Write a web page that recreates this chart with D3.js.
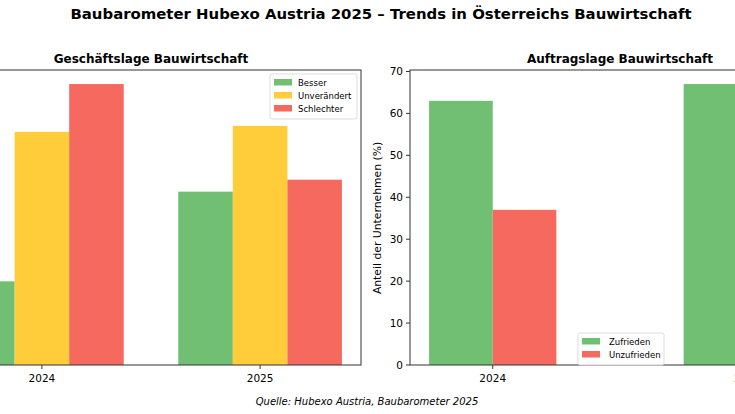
<!DOCTYPE html>
<html>
<head>
<meta charset="utf-8">
<script src="https://cdn.jsdelivr.net/npm/d3@7"></script>
<style>
  body { margin: 0; background: #fff; }
  svg { display: block; font-family: "DejaVu Sans", sans-serif; }
</style>
</head>
<body>
<div id="container"></div>
<script>
// data
const years = ['2024', '2025'];
const lageSeries = ['Besser', 'Unverändert', 'Schlechter'];
const lageValues = {
  'Besser': [14, 29],
  'Unverändert': [39, 40],
  'Schlechter': [47, 31]
};
const auftragSeries = ['Zufrieden', 'Unzufrieden'];
const auftragValues = {
  'Zufrieden': [63, 67],
  'Unzufrieden': [37, 33]
};
const yTicksRight = [0, 10, 20, 30, 40, 50, 60, 70];

const colors = {
  'Besser': '#70bf73',
  'Unverändert': '#ffcd39',
  'Schlechter': '#f6695e',
  'Zufrieden': '#70bf73',
  'Unzufrieden': '#f6695e'
};

const width = 735, height = 414;
const svg = d3.select('#container').append('svg')
  .attr('width', width).attr('height', height);

svg.append('text')
  .attr('x', 381).attr('y', 19)
  .attr('text-anchor', 'middle')
  .attr('font-size', 14.9).attr('font-weight', 'bold')
  .text('Baubarometer Hubexo Austria 2025 – Trends in Österreichs Bauwirtschaft');

svg.append('text')
  .attr('x', 367).attr('y', 405)
  .attr('text-anchor', 'middle')
  .attr('font-size', 10).attr('font-style', 'italic')
  .text('Quelle: Hubexo Austria, Baubarometer 2025');

const barW = 0.25;

function panel({left, right, top, bottom, series, values, title, legend}) {
  const g = svg.append('g');
  const n = series.length;
  // matplotlib-ish autoscale with 5% margins
  const lo = -(n / 2) * barW, hi = (years.length - 1) + (n / 2) * barW;
  const pad = (hi - lo) * 0.05;
  const x = d3.scaleLinear().domain([lo - pad, hi + pad]).range([left, right]);
  const maxV = d3.max(series, s => d3.max(values[s]));
  const y = d3.scaleLinear().domain([0, maxV * 1.05]).range([bottom, top]);

  series.forEach((s, si) => {
    const off = (si - (n - 1) / 2) * barW;
    g.selectAll(null)
      .data(values[s])
      .enter()
      .append('rect')
      .attr('x', (d, i) => x(i + off - barW / 2))
      .attr('width', x(barW) - x(0))
      .attr('y', d => y(d))
      .attr('height', d => y(0) - y(d))
      .attr('fill', colors[s]);
  });

  // frame
  g.append('rect')
    .attr('x', left).attr('y', top)
    .attr('width', right - left).attr('height', bottom - top)
    .attr('fill', 'none').attr('stroke', '#333').attr('stroke-width', 1);

  // x axis ticks
  const xt = g.selectAll('.xt').data(years).enter().append('g')
    .attr('transform', (d, i) => `translate(${x(i)},${bottom})`);
  xt.append('line').attr('y2', 4).attr('stroke', '#333');
  xt.append('text').attr('y', 17).attr('text-anchor', 'middle')
    .attr('font-size', 10.5).text(d => d);

  // title
  g.append('text')
    .attr('x', (left + right) / 2).attr('y', top - 7)
    .attr('text-anchor', 'middle')
    .attr('font-size', 12).attr('font-weight', 'bold')
    .text(title);

  // legend
  const lg = g.append('g').attr('transform', `translate(${legend.x},${legend.y})`);
  lg.append('rect')
    .attr('width', legend.w).attr('height', series.length * 13 + 6)
    .attr('rx', 2)
    .attr('fill', '#fff').attr('fill-opacity', 0.8)
    .attr('stroke', '#ddd');
  series.forEach((s, si) => {
    lg.append('rect')
      .attr('x', 4).attr('y', 5 + si * 13)
      .attr('width', 18).attr('height', 6.5)
      .attr('fill', colors[s]);
    lg.append('text')
      .attr('x', legend.tx).attr('y', 11.5 + si * 13)
      .attr('font-size', 8.5)
      .text(s);
  });

  return {x, y, g};
}

panel({
  left: -59, right: 361, top: 70, bottom: 365,
  series: lageSeries, values: lageValues,
  title: 'Geschäftslage Bauwirtschaft',
  legend: {x: 270, y: 74, w: 87, tx: 28}
});

const right = panel({
  left: 410, right: 830, top: 70, bottom: 365,
  series: auftragSeries, values: auftragValues,
  title: 'Auftragslage Bauwirtschaft',
  legend: {x: 578, y: 333, w: 86, tx: 31}
});

// y axis of right panel
const yt = right.g.selectAll('.yt').data(yTicksRight).enter().append('g')
  .attr('transform', d => `translate(410,${right.y(d)})`);
yt.append('line').attr('x2', -4).attr('stroke', '#333');
yt.append('text').attr('x', -7).attr('dy', '0.35em')
  .attr('text-anchor', 'end').attr('font-size', 10.5).text(d => d);

right.g.append('text')
  .attr('transform', 'translate(381,218) rotate(-90)')
  .attr('text-anchor', 'middle')
  .attr('font-size', 10.8)
  .text('Anteil der Unternehmen (%)');
</script>
</body>
</html>
